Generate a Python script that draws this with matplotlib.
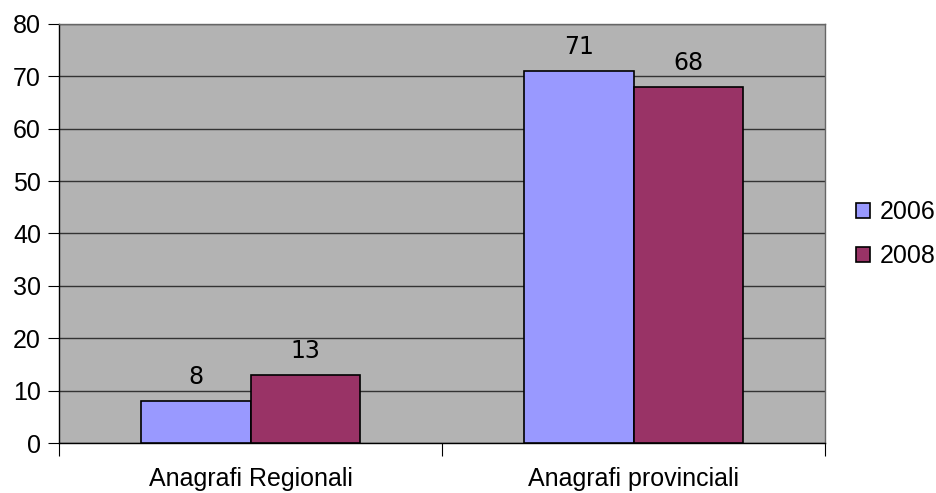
import numpy as np
import matplotlib.pyplot as plt

categories = ['Anagrafi Regionali', 'Anagrafi provinciali']
series_names = ['2006', '2008']
values_2006 = [8, 71]
values_2008 = [13, 68]
y_ticks = [0, 10, 20, 30, 40, 50, 60, 70, 80]

COLORS = ['#9999FF', '#993366']

fig = plt.figure(figsize=(9.37, 4.93), dpi=100)
ax = fig.add_axes([0.063, 0.1014, 0.8175, 0.85])
ax.set_facecolor('#B3B3B3')

x = np.arange(len(categories))
width = 0.287

bars = []
for i, (vals, name) in enumerate(zip([values_2006, values_2008], series_names)):
    offset = (i - 0.5) * width
    b = ax.bar(x + offset, vals, width, color=COLORS[i], edgecolor='black',
               linewidth=1.2, label=name, zorder=3)
    bars.append(b)
    for rect, v in zip(b, vals):
        ax.text(rect.get_x() + rect.get_width() / 2, v + 3.2, str(v),
                ha='center', va='baseline', fontsize=17, family='DejaVu Sans')

ax.set_xlim(-0.5, len(categories) - 0.5)
ax.set_ylim(0, 80)
ax.set_yticks(y_ticks)
ax.set_yticklabels([str(t) for t in y_ticks], family='Liberation Sans', fontsize=18)
ax.yaxis.grid(True, color='#333333', linewidth=1, zorder=1)
ax.set_axisbelow(True)

# category boundaries as ticks, labels in between
ax.set_xticks([-0.5, 0.5, 1.5])
ax.set_xticklabels([])
ax.set_xticks(x, minor=True)
ax.set_xticklabels(categories, minor=True, family='Liberation Sans', fontsize=18)
ax.tick_params(axis='x', which='major', length=9, width=0.8, color='black', direction='out')
ax.tick_params(axis='x', which='minor', length=0, pad=17)
ax.tick_params(axis='y', length=8, width=0.8, direction='out', pad=5)

for side in ['top', 'right']:
    ax.spines[side].set_color('#666666')
    ax.spines[side].set_linewidth(1)
ax.spines['left'].set_color('black')
ax.spines['bottom'].set_color('black')
ax.spines['left'].set_linewidth(1)
ax.spines['bottom'].set_linewidth(1)

leg = fig.legend(handles=bars, labels=series_names, loc='center left',
                 bbox_to_anchor=(0.890, 0.525), frameon=False,
                 prop={'family': 'Liberation Sans', 'size': 18},
                 handlelength=0.55, handleheight=0.55, handletextpad=0.4,
                 labelspacing=0.78)

fig.savefig('out.png', dpi=100, facecolor='white')
